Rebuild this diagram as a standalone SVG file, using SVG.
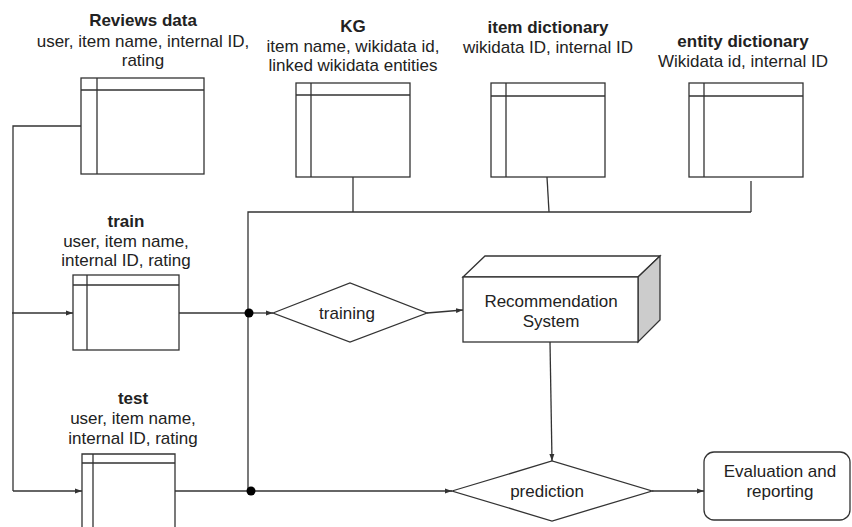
<svg xmlns="http://www.w3.org/2000/svg" width="852" height="527" viewBox="0 0 852 527">
  <style>
    text { font-family: "Liberation Sans", Arial, sans-serif; font-size: 17px; fill: #222; text-anchor: middle; }
    .b { font-weight: bold; }
    .shape { fill: #fff; stroke: #333; stroke-width: 1.3; }
    .line { fill: none; stroke: #333; stroke-width: 1.3; }
    .arrow { fill: none; stroke: #333; stroke-width: 1.3; marker-end: url(#ah); }
  </style>
  <defs>
    <marker id="ah" markerWidth="8" markerHeight="6" refX="7" refY="3" orient="auto" markerUnits="userSpaceOnUse">
      <path d="M0,0.5 L7,3 L0,5.5 Z" fill="#333"/>
    </marker>
  </defs>
  <rect width="852" height="527" fill="#fff"/>

  <g id="reviews">
    <text class="b" x="143" y="26">Reviews data</text>
    <text x="143" y="47">user, item name, internal ID,</text>
    <text x="143" y="66">rating</text>
    <rect class="shape" x="81" y="78" width="123" height="96"/>
    <path class="line" d="M81,90 H204 M97,78 V174"/>
  </g>

  <g id="kg">
    <text class="b" x="353" y="32">KG</text>
    <text x="353" y="52">item name, wikidata id,</text>
    <text x="353" y="71">linked wikidata entities</text>
    <rect class="shape" x="296" y="83" width="114" height="94"/>
    <path class="line" d="M296,95 H410 M311,83 V177"/>
  </g>

  <g id="item-dictionary">
    <text class="b" x="548" y="33">item dictionary</text>
    <text x="548" y="53">wikidata ID, internal ID</text>
    <rect class="shape" x="491" y="83" width="114" height="94"/>
    <path class="line" d="M491,96 H605 M506,83 V177"/>
  </g>

  <g id="entity-dictionary">
    <text class="b" x="743" y="47">entity dictionary</text>
    <text x="743" y="67">Wikidata id, internal ID</text>
    <rect class="shape" x="689" y="83" width="114" height="94"/>
    <path class="line" d="M689,96 H803 M704,83 V177"/>
  </g>

  <g id="train">
    <text class="b" x="126" y="227">train</text>
    <text x="126" y="247">user, item name,</text>
    <text x="126" y="266">internal ID, rating</text>
    <rect class="shape" x="73" y="275" width="106" height="75"/>
    <path class="line" d="M73,285 H179 M87,275 V350"/>
  </g>

  <g id="test">
    <text class="b" x="133" y="404">test</text>
    <text x="133" y="424">user, item name,</text>
    <text x="133" y="444">internal ID, rating</text>
    <path class="shape" d="M82,530 V454 H175 V530"/>
    <path class="line" d="M82,463 H175 M93,454 V530"/>
  </g>

  <g id="training">
    <polygon class="shape" points="273,313 350,283 427,313 350,342"/>
    <text x="347" y="319">training</text>
  </g>

  <g id="recommendation-system">
    <polygon class="shape" points="463,277 485,256 660,256 638,277"/>
    <polygon points="638,277 660,256 660,320 638,342" fill="#ccc" stroke="#333" stroke-width="1.3"/>
    <rect class="shape" x="463" y="277" width="175" height="65"/>
    <text x="551" y="307">Recommendation</text>
    <text x="551" y="327">System</text>
  </g>

  <g id="prediction">
    <polygon class="shape" points="452,491 552,461 652,491 552,521"/>
    <text x="547" y="497">prediction</text>
  </g>

  <g id="evaluation">
    <rect class="shape" x="704" y="452" width="146" height="68" rx="10"/>
    <text x="780" y="477">Evaluation and</text>
    <text x="780" y="497">reporting</text>
  </g>

  <g id="connectors">
    <!-- data split from reviews into train and test -->
    <path class="line" d="M81,126 H13 V491"/>
    <path class="arrow" d="M12,313 H73"/>
    <path class="arrow" d="M13,491 H82"/>
    <!-- knowledge sources bus -->
    <path class="line" d="M353,177 V212"/>
    <path class="line" d="M547,177 L549,212"/>
    <path class="line" d="M751,181 V212"/>
    <path class="line" d="M751,212 H248 V491"/>
    <!-- train to training -->
    <path class="line" d="M179,313 H249"/>
    <path class="arrow" d="M249,313 H273"/>
    <circle cx="249" cy="313" r="4.5" fill="#000"/>
    <!-- training to model -->
    <path class="arrow" d="M427,313 L463,310"/>
    <!-- model to prediction -->
    <path class="arrow" d="M550,342 L552,461"/>
    <!-- test to prediction -->
    <path class="line" d="M175,491 H251"/>
    <path class="arrow" d="M251,491 H452"/>
    <circle cx="251" cy="491" r="4.5" fill="#000"/>
    <!-- prediction to evaluation -->
    <path class="arrow" d="M652,491 H704"/>
  </g>
</svg>
